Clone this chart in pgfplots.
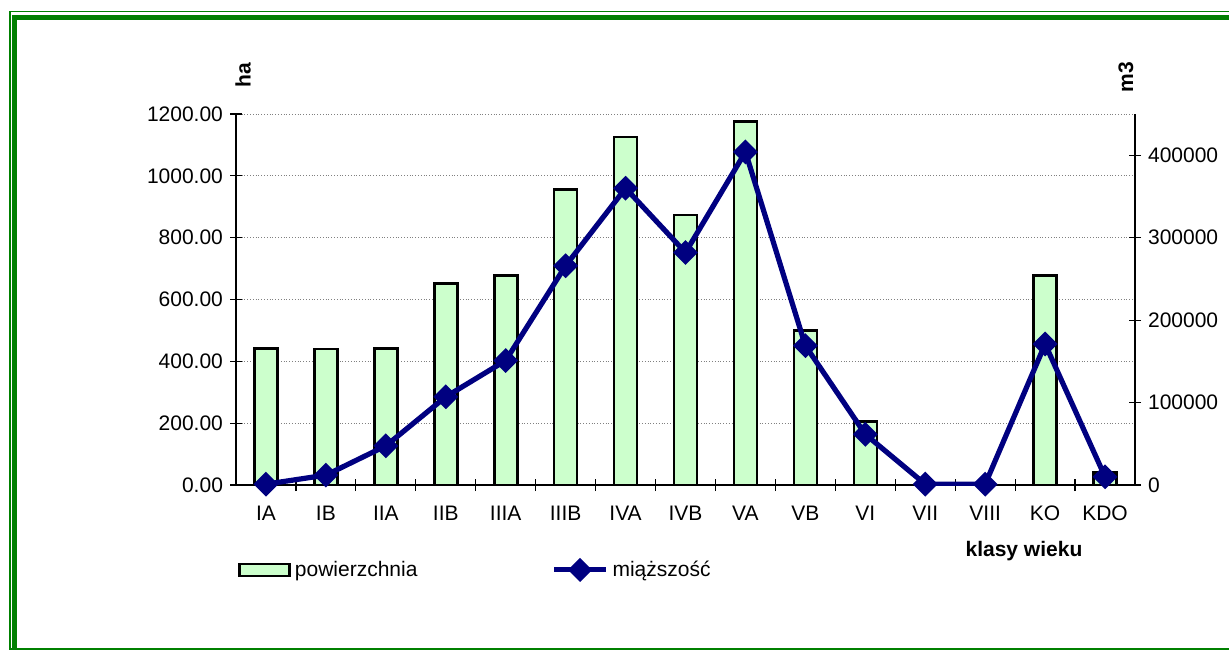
\documentclass[border=0pt]{standalone}
\usepackage{fontspec}
\setmainfont{Liberation Sans}
\usepackage{pgfplots}
\pgfplotsset{compat=1.18}
\definecolor{barfill}{HTML}{CCFFCC}
\definecolor{navy}{HTML}{000080}
\definecolor{frm}{HTML}{008000}
\newcommand\fs{\fontsize{10.5}{12.6}\selectfont}
\pgfplotsset{
  linelegend/.style={legend image code/.code={%
    \draw[navy, line width=2.5pt, mark=square*, mark size=3pt, mark options={rotate=45},
      mark repeat=2, mark phase=2] plot coordinates {(0pt,0pt) (13pt,0pt) (26pt,0pt)};}},
  barlegend/.style={legend image code/.code={%
    \draw[fill=barfill, draw=black, line width=1.3pt] (0pt,-3pt) rectangle (25pt,3pt);}},
}

\begin{document}
\begin{tikzpicture}
\path[use as bounding box] (0,0) rectangle (614.5pt,325pt);
% green double frame
\draw[frm,line width=0.8pt] (620pt,319.3pt) -- (5.1pt,319.3pt) -- (5.1pt,0.5pt) -- (620pt,0.5pt);
\draw[frm,line width=2.6pt] (620pt,316.1pt) -- (7.4pt,316.1pt) -- (7.4pt,0.5pt);

\begin{axis}[
  at={(118pt,82.5pt)}, anchor=south west,
  scale only axis, width=449.5pt, height=185.5pt,
  xmin=-0.5, xmax=14.5, ymin=0, ymax=1200,
  axis x line*=bottom, axis y line*=left,
  axis line style={black, line width=0.8pt},
  xtick={0,...,14},
  xticklabels={IA,IB,IIA,IIB,IIIA,IIIB,IVA,IVB,VA,VB,VI,VII,VIII,KO,KDO},
  minor xtick={0.5,1.5,...,13.5},
  major x tick style={draw=none},
  ytick={0,200,...,1200},
  tick align=center,
  major tick length=6pt, minor tick length=6pt,
  tick style={black, line width=0.6pt},
  ymajorgrids,
  major grid style={gray, densely dotted, line width=0.5pt},
  /pgf/number format/assume math mode=true,
  tick label style={font=\fs},
  xticklabel style={yshift=-4pt},
  yticklabel style={/pgf/number format/.cd, fixed, fixed zerofill, precision=2, 1000 sep={}},
  ylabel={\textbf{ha}},
  ylabel style={at={(axis description cs:0.008,1.105)}, anchor=center, font=\fs},
  xlabel={\textbf{klasy wieku}},
  xlabel style={at={(axis description cs:0.8765,-0.178)}, anchor=center, font=\fs},
  legend style={at={(axis description cs:-0.0045,-0.229)}, anchor=west,
    draw=none, fill=none, font=\fs, legend columns=2,
    /tikz/every even column/.append style={column sep=65pt}},
]
\addplot[ybar, bar width=11.5pt, fill=barfill, draw=black, line width=1.3pt, barlegend]
  coordinates {(0,442) (1,440) (2,442) (3,652) (4,677) (5,956) (6,1126) (7,873)
               (8,1175) (9,499) (10,205) (13,677) (14,40)};
\addlegendentry{powierzchnia}
\addlegendimage{linelegend}
\addlegendentry{miąższość}
\end{axis}

\begin{axis}[
  at={(118pt,82.5pt)}, anchor=south west,
  scale only axis, width=449.5pt, height=185.5pt,
  xmin=-0.5, xmax=14.5, ymin=0, ymax=450000,
  axis x line=none, axis y line*=right,
  axis line style={black, line width=0.8pt},
  ytick={0,100000,...,400000},
  scaled y ticks=false,
  tick align=center,
  major tick length=6pt,
  tick style={black, line width=0.6pt},
  /pgf/number format/assume math mode=true,
  tick label style={font=\fs},
  yticklabel style={/pgf/number format/.cd, fixed, 1000 sep={}},
  ylabel={\textbf{m3}},
  ylabel style={at={(axis description cs:0.99,1.0997)}, anchor=center, font=\fs},
]
\addplot[navy, line width=2.6pt, mark=square*, mark size=3.1pt, mark options={rotate=45, solid}]
  coordinates {(0,1000) (1,12000) (2,47500) (3,107000) (4,151000) (5,266000) (6,360000)
               (7,282000) (8,404000) (9,169000) (10,61500) (11,1000) (12,1000) (13,171000) (14,10000)};
\end{axis}
\end{tikzpicture}
\end{document}
